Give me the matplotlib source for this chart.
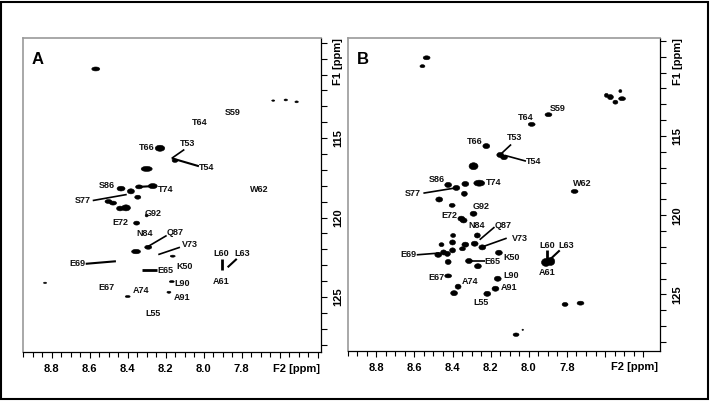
import matplotlib
matplotlib.use('Agg')
import matplotlib.pyplot as plt
from matplotlib.patches import Ellipse, Rectangle

plt.rcParams['font.family'] = ['Liberation Sans', 'DejaVu Sans']

# --- Panel A: peak positions (1H ppm, 15N ppm) and line widths (ppm) ---
a_h = [8.568, 7.634, 7.568, 7.511, 8.230, 8.151, 8.300, 8.435, 8.383, 8.340,
       8.268, 8.347, 8.501, 8.477, 8.440, 8.409, 8.300, 8.353, 8.292, 8.356,
       8.163, 8.835, 8.168, 8.400, 8.183]
a_n = [110.65, 112.64, 112.60, 112.72, 115.64, 116.42, 116.94, 118.18, 118.35, 118.07,
       118.02, 118.72, 118.99, 119.09, 119.43, 119.39, 119.87, 120.35, 121.87, 122.14,
       122.43, 124.11, 124.03, 124.97, 124.70]
a_dh = [0.042, 0.016, 0.018, 0.018, 0.050, 0.030, 0.058, 0.042, 0.037, 0.037,
        0.047, 0.032, 0.037, 0.037, 0.037, 0.047, 0.016, 0.032, 0.037, 0.047,
        0.026, 0.016, 0.026, 0.026, 0.021]
a_dn = [0.25, 0.09, 0.12, 0.12, 0.38, 0.22, 0.32, 0.30, 0.32, 0.25,
        0.32, 0.25, 0.25, 0.25, 0.30, 0.38, 0.18, 0.25, 0.25, 0.28,
        0.13, 0.09, 0.13, 0.13, 0.13]

a_labels = ['S59', 'T64', 'T66', 'T53', 'T54', 'W62', 'S86', 'T74', 'S77', 'G92',
            'E72', 'N84', 'Q87', 'V73', 'L60', 'L63', 'A61', 'E69', 'E65', 'K50',
            'E67', 'L90', 'A74', 'A91', 'L55']
a_lab_h = [7.849, 8.023, 8.300, 8.086, 7.984, 7.709, 8.511, 8.198, 8.634, 8.265,
           8.440, 8.309, 8.151, 8.072, 7.909, 7.800, 7.909, 8.663, 8.204, 8.102,
           8.511, 8.111, 8.330, 8.113, 8.268]
a_lab_n = [113.42, 114.00, 115.58, 115.36, 116.84, 118.26, 117.99, 118.24, 118.93, 119.73,
           120.30, 120.99, 120.96, 121.72, 122.28, 122.28, 124.01, 122.91, 123.33, 123.08,
           124.38, 124.17, 124.59, 125.01, 126.02]

# leader lines: (h1, n1, h2, n2, width)
a_leaders = [(8.168, 116.27, 8.102, 115.72, 1.2), (8.168, 116.27, 8.025, 116.77, 1.5),
             (8.584, 118.93, 8.405, 118.55, 1.2), (8.195, 121.13, 8.300, 121.87, 1.2),
             (8.125, 121.87, 8.239, 122.33, 1.2), (7.905, 122.60, 7.905, 123.29, 2.0),
             (7.826, 122.60, 7.874, 123.13, 1.5), (8.621, 122.91, 8.462, 122.75, 1.5),
             (8.326, 123.29, 8.247, 123.29, 2.0), (8.340, 118.07, 8.268, 118.02, 1.5)]

# --- Panel B ---
b_h = [8.536, 8.558, 7.572, 7.546, 7.511, 7.520, 7.593, 7.897, 7.985, 8.223,
       8.150, 8.130, 8.290, 8.423, 8.380, 8.333, 8.260, 8.338, 7.760, 8.470,
       8.402, 8.290, 8.354, 8.342, 8.397, 8.270, 8.400, 8.458, 8.333, 8.284,
       8.348, 8.244, 8.400, 8.447, 8.475, 8.427, 8.157, 8.314, 8.423, 8.267,
       7.910, 7.885, 8.423, 8.163, 8.371, 8.175, 8.392, 8.218, 7.810, 7.729,
       8.067, 8.032]
b_n = [110.07, 110.60, 112.55, 112.87, 112.65, 112.17, 112.44, 113.66, 114.27, 115.64,
       116.20, 116.35, 116.91, 118.09, 118.28, 118.03, 117.98, 118.65, 118.50, 119.01,
       119.38, 119.91, 120.22, 120.33, 121.28, 121.28, 121.72, 121.86, 121.86, 121.80,
       122.12, 122.03, 122.22, 122.35, 122.50, 122.44, 122.37, 122.89, 122.95, 123.22,
       122.98, 122.92, 123.83, 124.01, 124.51, 124.64, 124.92, 124.96, 125.63, 125.55,
       127.54, 127.23]
b_dh = [0.036, 0.026, 0.031, 0.026, 0.036, 0.016, 0.021, 0.036, 0.036, 0.036,
        0.036, 0.036, 0.047, 0.036, 0.036, 0.036, 0.057, 0.031, 0.036, 0.036,
        0.031, 0.036, 0.036, 0.036, 0.026, 0.031, 0.031, 0.026, 0.036, 0.036,
        0.031, 0.036, 0.031, 0.031, 0.036, 0.031, 0.036, 0.036, 0.031, 0.036,
        0.047, 0.042, 0.036, 0.036, 0.031, 0.036, 0.036, 0.036, 0.031, 0.036,
        0.031, 0.008]
b_dn = [0.25, 0.19, 0.32, 0.25, 0.25, 0.19, 0.25, 0.25, 0.25, 0.32,
        0.32, 0.30, 0.44, 0.32, 0.32, 0.32, 0.38, 0.32, 0.25, 0.32,
        0.25, 0.32, 0.32, 0.32, 0.25, 0.32, 0.32, 0.25, 0.32, 0.32,
        0.25, 0.32, 0.32, 0.32, 0.32, 0.32, 0.32, 0.32, 0.32, 0.32,
        0.50, 0.50, 0.25, 0.32, 0.32, 0.32, 0.32, 0.32, 0.25, 0.25,
        0.22, 0.08]

b_labels = ['S59', 'T64', 'T53', 'T54', 'T66', 'S86', 'T74', 'W62', 'S77', 'G92',
            'E72', 'N84', 'Q87', 'V73', 'E69', 'K50', 'E65', 'L60', 'L63', 'A61',
            'E67', 'L90', 'A74', 'A91', 'L55']
b_lab_h = [7.850, 8.019, 8.076, 7.977, 8.281, 8.484, 8.183, 7.720, 8.609, 8.249,
           8.418, 8.276, 8.136, 8.046, 8.631, 8.088, 8.189, 7.902, 7.803, 7.902,
           8.484, 8.093, 8.310, 8.105, 8.249]
b_lab_n = [113.25, 113.81, 115.11, 116.61, 115.35, 117.74, 117.95, 117.98, 118.65, 119.43,
           120.02, 120.65, 120.65, 121.45, 122.50, 122.68, 122.92, 121.91, 121.91, 123.59,
           123.95, 123.80, 124.18, 124.54, 125.49]

b_leaders = [(8.093, 115.54, 8.142, 116.09, 1.2), (8.015, 116.59, 8.125, 116.23, 1.2),
             (8.553, 118.61, 8.389, 118.29, 1.2), (8.180, 120.75, 8.258, 121.55, 1.2),
             (8.116, 121.45, 8.249, 122.02, 1.2), (8.588, 122.50, 8.470, 122.39, 1.2),
             (8.310, 122.90, 8.232, 122.90, 1.2), (7.906, 122.22, 7.906, 122.81, 2.0),
             (7.838, 122.22, 7.885, 122.75, 1.5)]

x_major = [8.8, 8.6, 8.4, 8.2, 8.0, 7.8, 7.6, 7.4]
x_labels = ['8.8', '8.6', '8.4', '8.2', '8.0', '7.8', '', '']
y_ticks = list(range(109, 129))
y_labels = [str(v) if v in (115, 120, 125) else '' for v in y_ticks]


def draw_panel(ax, h, n, dh, dn, labels, lab_h, lab_n, leaders, letter, xlim, ylim):
    for x, y, w, hh in zip(h, n, dh, dn):
        ax.add_patch(Ellipse((x, y), w, hh, facecolor='black', edgecolor='black', lw=0.4))
    for h1, n1, h2, n2, lw in leaders:
        ax.plot([h1, h2], [n1, n2], color='black', lw=lw, solid_capstyle='butt')
    for t, x, y in zip(labels, lab_h, lab_n):
        ax.text(x, y, t, fontsize=6.5, fontweight='bold', ha='center', va='center', color='#111111')

    ax.set_xlim(*xlim)
    ax.set_ylim(*ylim)
    ax.set_xticks(x_major)
    ax.set_xticklabels(x_labels)
    ax.set_xticks([round(7.4 + 0.05 * i, 2) for i in range(32)], minor=True)
    ax.yaxis.tick_right()
    ax.set_yticks(y_ticks)
    ax.set_yticklabels(y_labels, rotation=90, va='center')
    ax.tick_params(axis='both', which='both', direction='out', colors='black',
                   labelsize=8, width=0.8)
    ax.tick_params(axis='x', which='major', length=4.5, pad=4)
    ax.tick_params(axis='x', which='minor', length=3.5)
    ax.tick_params(axis='y', which='major', length=4, pad=5)
    for lab in ax.get_xticklabels() + ax.get_yticklabels():
        lab.set_fontweight('bold')
    for side in ('left', 'top'):
        ax.spines[side].set_color('#9a9a9a')
        ax.spines[side].set_linewidth(1.2)
    for side in ('right', 'bottom'):
        ax.spines[side].set_color('black')
        ax.spines[side].set_linewidth(0.9)

    ax.text(0.03, 0.955, letter, transform=ax.transAxes, fontsize=12, fontweight='bold',
            ha='left', va='top')
    ax.text(1.056, 0.925, 'F1 [ppm]', transform=ax.transAxes, rotation=90, fontsize=8,
            fontweight='bold', ha='center', va='center')
    ax.text(0.917, -0.053, 'F2 [ppm]', transform=ax.transAxes, fontsize=8,
            fontweight='bold', ha='center', va='center')


fig = plt.figure(figsize=(7.1, 4.01), dpi=100)
fig.patch.set_facecolor('white')

ax_a = fig.add_axes([0.0324, 0.1222, 0.4196, 0.7831])
ax_b = fig.add_axes([0.4897, 0.1254, 0.4399, 0.7799])

draw_panel(ax_a, a_h, a_n, a_dh, a_dn, a_labels, a_lab_h, a_lab_n, a_leaders, 'A',
           (8.951, 7.383), (128.46, 108.70))
draw_panel(ax_b, b_h, b_n, b_dh, b_dn, b_labels, b_lab_h, b_lab_n, b_leaders, 'B',
           (8.939, 7.312), (128.55, 108.82))

# outer border around the whole figure
fig.patches.append(Rectangle((0.002, 0.004), 0.995, 0.992, transform=fig.transFigure,
                             fill=False, edgecolor='black', lw=1.5))

plt.savefig('out.png', dpi=100, facecolor='white')
plt.close()
